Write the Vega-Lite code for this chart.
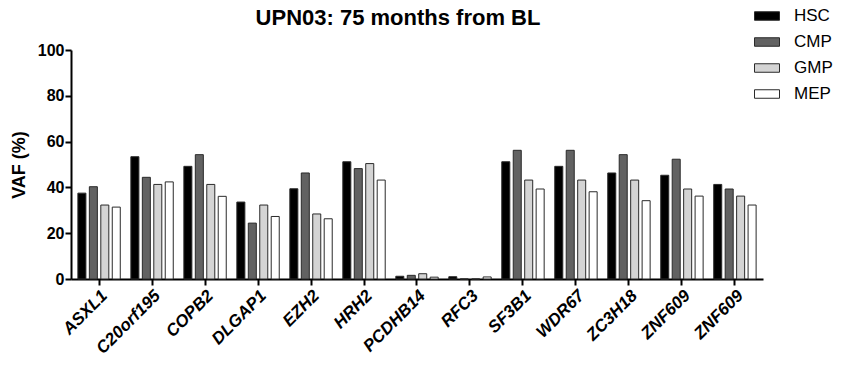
{
  "$schema": "https://vega.github.io/schema/vega-lite/v6.json",
  "width": 692,
  "height": 229,
  "autosize": {"type": "none"},
  "padding": {"left": 71, "top": 50, "right": 79, "bottom": 86},
  "background": "white",
  "config": {
    "view": {"stroke": null},
    "font": "Liberation Sans"
  },
  "title": {
    "text": "UPN03: 75 months from BL",
    "fontSize": 22,
    "fontWeight": "bold",
    "font": "Liberation Sans",
    "color": "#000",
    "anchor": "middle",
    "dx": -19,
    "offset": -27
  },
  "data": {
    "values": [
      {"gene": "ASXL1", "cell": "HSC", "vaf": 37.5},
      {"gene": "ASXL1", "cell": "CMP", "vaf": 40.3},
      {"gene": "ASXL1", "cell": "GMP", "vaf": 32.3},
      {"gene": "ASXL1", "cell": "MEP", "vaf": 31.4},
      {"gene": "C20orf195", "cell": "HSC", "vaf": 53.4},
      {"gene": "C20orf195", "cell": "CMP", "vaf": 44.4},
      {"gene": "C20orf195", "cell": "GMP", "vaf": 41.3},
      {"gene": "C20orf195", "cell": "MEP", "vaf": 42.4},
      {"gene": "COPB2", "cell": "HSC", "vaf": 49.2},
      {"gene": "COPB2", "cell": "CMP", "vaf": 54.3},
      {"gene": "COPB2", "cell": "GMP", "vaf": 41.3},
      {"gene": "COPB2", "cell": "MEP", "vaf": 36.1},
      {"gene": "DLGAP1", "cell": "HSC", "vaf": 33.6},
      {"gene": "DLGAP1", "cell": "CMP", "vaf": 24.4},
      {"gene": "DLGAP1", "cell": "GMP", "vaf": 32.3},
      {"gene": "DLGAP1", "cell": "MEP", "vaf": 27.3},
      {"gene": "EZH2", "cell": "HSC", "vaf": 39.4},
      {"gene": "EZH2", "cell": "CMP", "vaf": 46.3},
      {"gene": "EZH2", "cell": "GMP", "vaf": 28.4},
      {"gene": "EZH2", "cell": "MEP", "vaf": 26.3},
      {"gene": "HRH2", "cell": "HSC", "vaf": 51.2},
      {"gene": "HRH2", "cell": "CMP", "vaf": 48.2},
      {"gene": "HRH2", "cell": "GMP", "vaf": 50.4},
      {"gene": "HRH2", "cell": "MEP", "vaf": 43.2},
      {"gene": "PCDHB14", "cell": "HSC", "vaf": 1.2},
      {"gene": "PCDHB14", "cell": "CMP", "vaf": 1.6},
      {"gene": "PCDHB14", "cell": "GMP", "vaf": 2.3},
      {"gene": "PCDHB14", "cell": "MEP", "vaf": 0.8},
      {"gene": "RFC3", "cell": "HSC", "vaf": 1.0},
      {"gene": "RFC3", "cell": "CMP", "vaf": 0},
      {"gene": "RFC3", "cell": "GMP", "vaf": 0},
      {"gene": "RFC3", "cell": "MEP", "vaf": 0.9},
      {"gene": "SF3B1", "cell": "HSC", "vaf": 51.2},
      {"gene": "SF3B1", "cell": "CMP", "vaf": 56.2},
      {"gene": "SF3B1", "cell": "GMP", "vaf": 43.2},
      {"gene": "SF3B1", "cell": "MEP", "vaf": 39.3},
      {"gene": "WDR67", "cell": "HSC", "vaf": 49.2},
      {"gene": "WDR67", "cell": "CMP", "vaf": 56.2},
      {"gene": "WDR67", "cell": "GMP", "vaf": 43.2},
      {"gene": "WDR67", "cell": "MEP", "vaf": 38.1},
      {"gene": "ZC3H18", "cell": "HSC", "vaf": 46.3},
      {"gene": "ZC3H18", "cell": "CMP", "vaf": 54.3},
      {"gene": "ZC3H18", "cell": "GMP", "vaf": 43.2},
      {"gene": "ZC3H18", "cell": "MEP", "vaf": 34.2},
      {"gene": "ZNF609#1", "cell": "HSC", "vaf": 45.3},
      {"gene": "ZNF609#1", "cell": "CMP", "vaf": 52.3},
      {"gene": "ZNF609#1", "cell": "GMP", "vaf": 39.3},
      {"gene": "ZNF609#1", "cell": "MEP", "vaf": 36.2},
      {"gene": "ZNF609#2", "cell": "HSC", "vaf": 41.3},
      {"gene": "ZNF609#2", "cell": "CMP", "vaf": 39.3},
      {"gene": "ZNF609#2", "cell": "GMP", "vaf": 36.2},
      {"gene": "ZNF609#2", "cell": "MEP", "vaf": 32.3}
    ]
  },
  "mark": {"type": "bar", "stroke": "#2a2a2a", "strokeWidth": 1},
  "encoding": {
    "x": {
      "field": "gene",
      "type": "nominal",
      "sort": null,
      "scale": {"paddingInner": 0.2, "paddingOuter": 0.13},
      "axis": {
        "title": null,
        "labelExpr": "split(datum.label, '#')[0]",
        "labelAngle": -45,
        "labelFont": "Liberation Sans",
        "labelFontSize": 17,
        "labelFontWeight": "bold",
        "labelFontStyle": "italic",
        "labelColor": "#000",
        "labelPadding": 2,
        "domainColor": "#000",
        "domainWidth": 2,
        "tickColor": "#000",
        "tickWidth": 2,
        "tickSize": 6
      }
    },
    "xOffset": {
      "field": "cell",
      "type": "nominal",
      "scale": {"domain": ["HSC", "CMP", "GMP", "MEP"], "paddingInner": 0.3, "paddingOuter": 0}
    },
    "y": {
      "field": "vaf",
      "type": "quantitative",
      "scale": {"domain": [0, 100]},
      "axis": {
        "title": "VAF (%)",
        "titleFont": "Liberation Sans",
        "titleFontSize": 18,
        "titleFontWeight": "bold",
        "titleColor": "#000",
        "titlePadding": 9,
        "values": [0, 20, 40, 60, 80, 100],
        "grid": false,
        "labelFont": "Liberation Sans",
        "labelFontSize": 16,
        "labelFontWeight": "bold",
        "labelColor": "#000",
        "labelPadding": 1,
        "domainColor": "#000",
        "domainWidth": 2,
        "tickColor": "#000",
        "tickWidth": 2,
        "tickSize": 6
      }
    },
    "color": {
      "field": "cell",
      "type": "nominal",
      "scale": {"domain": ["HSC", "CMP", "GMP", "MEP"], "range": ["#000000", "#626262", "#d4d4d4", "#ffffff"]},
      "legend": {
        "title": null,
        "orient": "none",
        "legendX": 683,
        "legendY": -47,
        "symbolType": "M-1,-0.34H1V0.34H-1Z",
        "symbolSize": 625,
        "symbolStrokeColor": "#2a2a2a",
        "symbolStrokeWidth": 1,
        "symbolOpacity": 1,
        "labelFont": "Liberation Sans",
        "labelFontSize": 17,
        "labelColor": "#000",
        "labelOffset": 14,
        "rowPadding": 5
      }
    }
  }
}
